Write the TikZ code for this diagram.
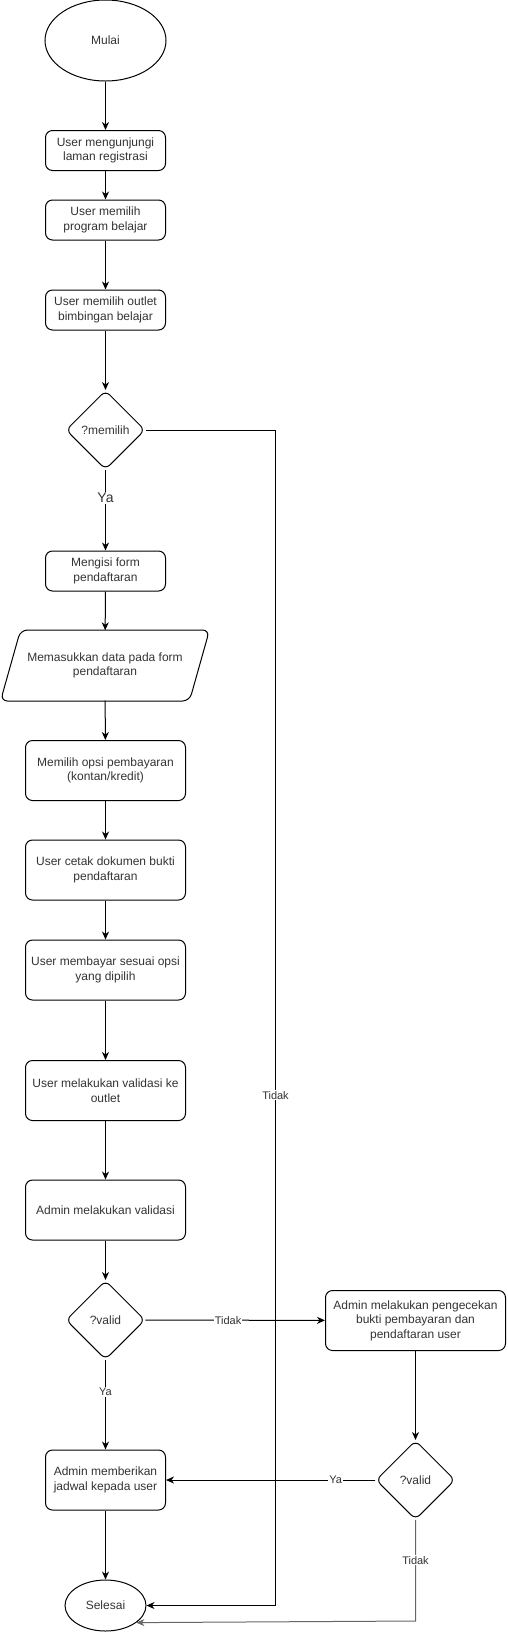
\documentclass[tikz,border=0pt]{standalone}
\usepackage{fontspec}
\setmainfont{Liberation Sans}
\usetikzlibrary{shapes.geometric,arrows.meta}
\begin{document}
\begin{tikzpicture}[x=1pt,y=-1pt,
 every node/.style={font=\fontsize{12}{14.4}\selectfont, text=black!80},
 base/.style={draw=black, line width=1pt, align=center, inner sep=0pt},
 proc/.style={base, rectangle, rounded corners=7pt, minimum width=120pt, minimum height=40pt},
 wproc/.style={proc, minimum width=160pt, minimum height=60pt},
 term/.style={base, ellipse, minimum width=121pt, minimum height=81pt},
 dec/.style={base, diamond, rounded corners=6pt, minimum width=79pt, minimum height=79pt},
 lbl/.style={fill=white, inner sep=1pt, font=\fontsize{11}{13}\selectfont},
 arr/.style={line width=1pt, -{Stealth[length=8pt,width=7pt,inset=2.5pt]}},
]
\useasboundingbox (0,0) rectangle (507,1634);

\node[term] (mulai) at (105.5,40.5) {Mulai};
\node[proc] (b1) at (105.5,150.5) {User mengunjungi\\laman registrasi};
\node[proc] (b2) at (105.5,220) {User memilih\\program belajar};
\node[proc] (b3) at (105.5,310) {User memilih outlet\\bimbingan belajar};
\node[dec] (d1) at (105.5,430) {?memilih};
\node[proc] (b4) at (105.5,571) {Mengisi form\\pendaftaran};
\node[align=center, minimum width=190pt, minimum height=70pt, inner sep=0pt] (para) at (105,665.5) {Memasukkan data pada form\\pendaftaran};
\draw[line width=1pt, rounded corners=7pt] (105,701) -- (0.5,701) -- (20.5,630) -- (209.5,630) -- (189.5,701) -- cycle;
\node[wproc] (b5) at (105.5,770.5) {Memilih opsi pembayaran\\(kontan/kredit)};
\node[wproc] (b6) at (105.5,870) {User cetak dokumen bukti\\pendaftaran};
\node[wproc] (b7) at (105.5,970) {User membayar sesuai opsi\\yang dipilih};
\node[wproc] (b8) at (105.5,1090.5) {User melakukan validasi ke\\outlet};
\node[wproc] (b9) at (105.5,1210) {Admin melakukan validasi};
\node[dec] (d2) at (105.5,1320) {?valid};
\node[proc, minimum width=180pt, minimum height=60pt] (r1) at (415.5,1320.5) {Admin melakukan pengecekan\\bukti pembayaran dan\\pendaftaran user};
\node[dec] (d3) at (415.5,1480) {?valid};
\node[proc, minimum height=60pt] (b10) at (105.5,1480) {Admin memberikan\\jadwal kepada user};
\node[base, ellipse, minimum width=81pt, minimum height=51pt] (selesai) at (105.5,1605.5) {Selesai};

\coordinate (c1) at (275.5,430);
\coordinate (c2) at (275.5,1605.5);
\coordinate (c3) at (415.5,1621);

\draw[arr] (mulai) -- (b1);
\draw[arr] (b1) -- (b2);
\draw[arr] (b2) -- (b3);
\draw[arr] (b3) -- (d1);
\draw[arr] (d1) -- node[lbl, pos=0.35, font=\fontsize{14}{16}\selectfont] {Ya} (b4);
\draw[arr] (b4) -- (para);
\draw[arr] (para) -- (b5);
\draw[arr] (b5) -- (b6);
\draw[arr] (b6) -- (b7);
\draw[arr] (b7) -- (b8);
\draw[arr] (b8) -- (b9);
\draw[arr] (b9) -- (d2);
\draw[arr] (d2) -- node[lbl, pos=0.36] {Ya} (b10);
\draw[arr] (d2) -- node[lbl, pos=0.46] {Tidak} (r1);
\draw[arr] (r1) -- (d3);
\draw[arr] (d3) -- node[lbl, pos=0.19] {Ya} (b10);
\draw[arr] (b10) -- (selesai);
\draw[arr] (d1.east) -- (c1) -- node[lbl, pos=0.566] {Tidak} (c2) -- (selesai);
\draw[arr, draw=black!60] (d3) -- node[lbl, pos=0.4] {Tidak} (c3) -- (selesai.-29);
\end{tikzpicture}
\end{document}
